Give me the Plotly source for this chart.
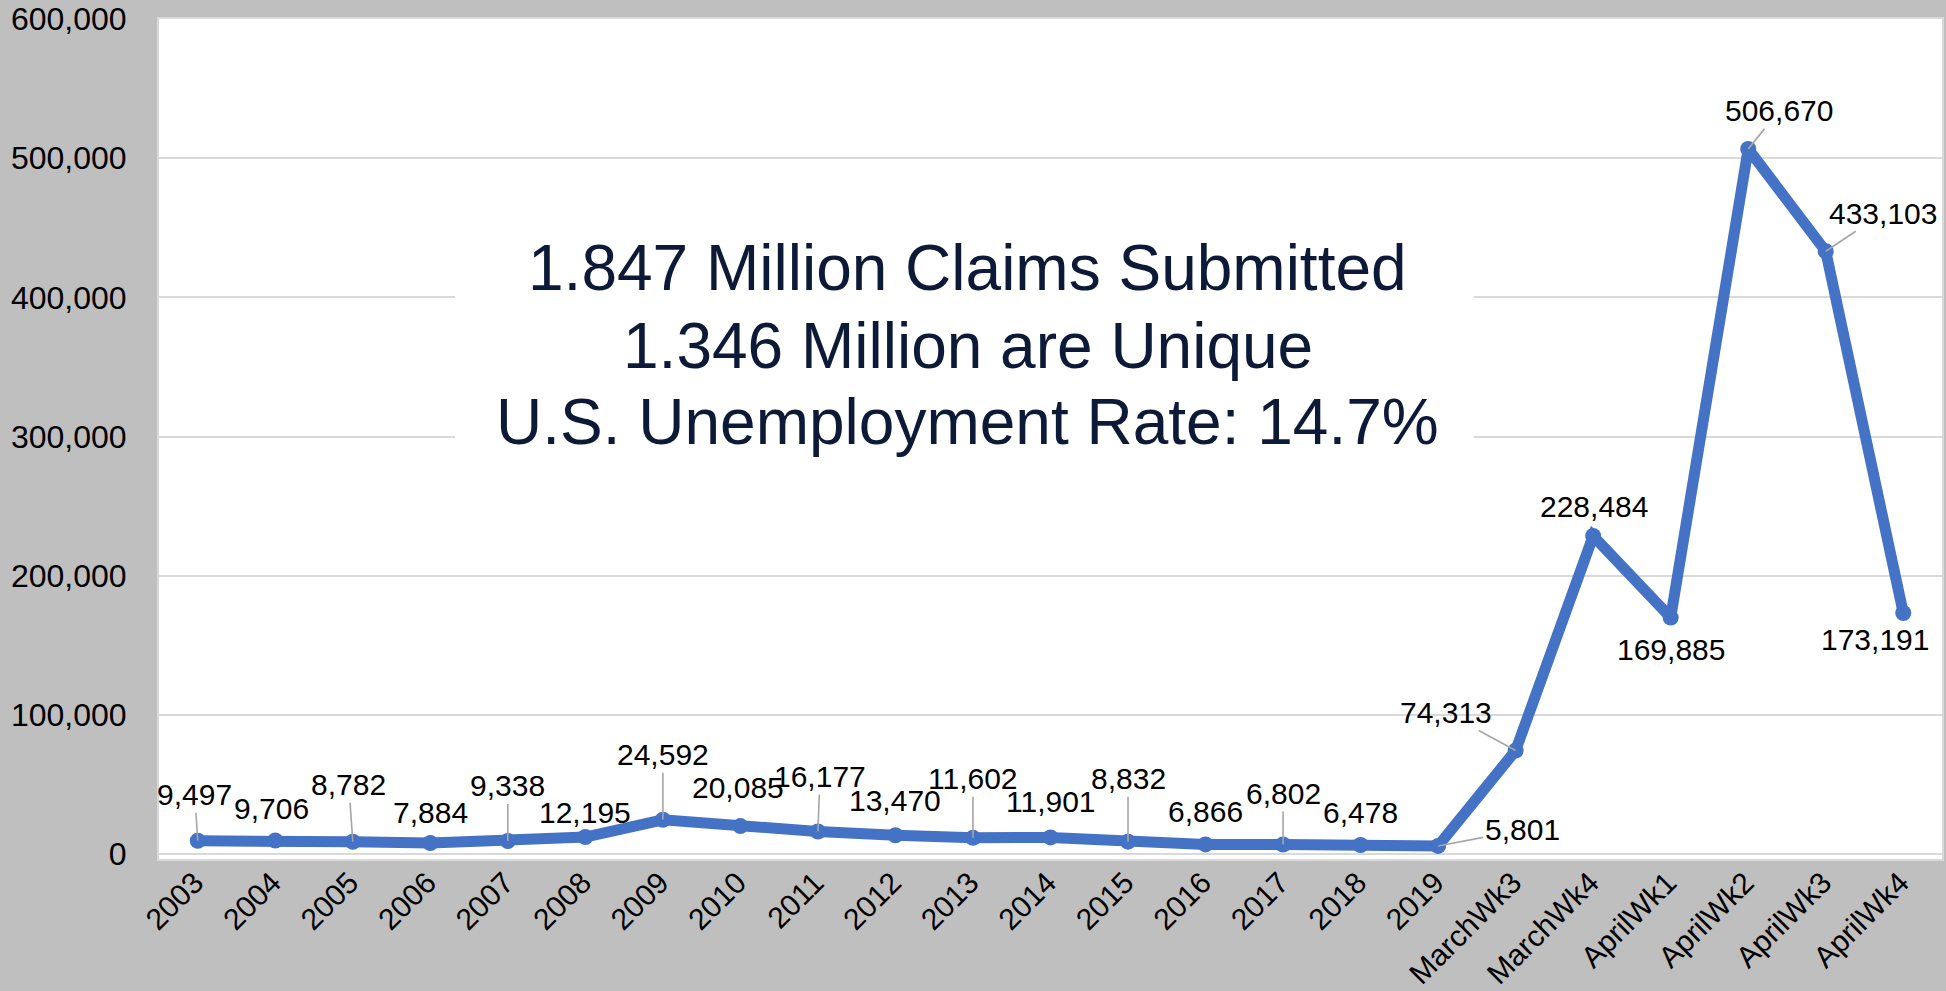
import plotly.graph_objects as go

categories = ["2003", "2004", "2005", "2006", "2007", "2008", "2009", "2010",
              "2011", "2012", "2013", "2014", "2015", "2016", "2017", "2018",
              "2019", "MarchWk3", "MarchWk4", "AprilWk1", "AprilWk2",
              "AprilWk3", "AprilWk4"]
claims = [9497, 9706, 8782, 7884, 9338, 12195, 24592, 20085, 16177, 13470,
          11602, 11901, 8832, 6866, 6802, 6478, 5801, 74313, 228484, 169885,
          506670, 433103, 173191]
y_ticks = [0, 100000, 200000, 300000, 400000, 500000, 600000]
headline = ["1.847 Million Claims Submitted",
            "1.346 Million are Unique",
            "U.S. Unemployment Rate: 14.7%"]

# label placement (pixel offsets from each point) and leader-line flags
label_dx = [-3, -4, -4, 0, 0, 0, 0, -2, 2, 0, 0, 0, 0, 0, 0, 0, 84, -70, 1, 0, 31, 57, -28]
label_dy = [-46, -32, -57, -31, -55, -25, -65, -39, -55, -35, -59, -36, -63, -33,
            -51, -32, -16, -38, -30, 32, -38, -38, 27]
leader = [1, 0, 1, 0, 1, 0, 1, 0, 1, 0, 1, 0, 1, 0, 1, 0, 1, 1, 0, 0, 1, 1, 0]

FONT = "Liberation Sans, Arial, sans-serif"
BLUE = "#4472C4"

fig = go.Figure()
fig.add_trace(go.Scatter(
    x=categories, y=claims, mode="lines+markers",
    line=dict(color=BLUE, width=11),
    marker=dict(color=BLUE, size=16),
    hoverinfo="x+y", showlegend=False,
))

annotations = []
for i, (v, dx, dy, ld) in enumerate(zip(claims, label_dx, label_dy, leader)):
    annotations.append(dict(
        x=i, y=v, xref="x", yref="y", text=f"{v:,}",
        showarrow=True, ax=dx, ay=dy, arrowhead=0, arrowwidth=1.6,
        arrowcolor="#a6a6a6" if ld else "rgba(0,0,0,0)", standoff=0,
        font=dict(family=FONT, size=30, color="#000000"),
    ))

line_y = [0.703, 0.611, 0.520]
for t, yy in zip(headline, line_y):
    annotations.append(dict(
        x=0.4537, y=yy, xref="paper", yref="paper", text=t, showarrow=False,
        xanchor="center", yanchor="middle",
        font=dict(family=FONT, size=64, color="#0c1a38"),
    ))

fig.update_layout(
    width=1946, height=991,
    margin=dict(l=159, r=4, t=19, b=132),
    paper_bgcolor="#bfbfbf", plot_bgcolor="#ffffff",
    font=dict(family=FONT, color="#000000"),
    annotations=annotations,
    shapes=[dict(type="rect", xref="paper", yref="paper",
                 x0=0.166, x1=0.7375, y0=0.482, y1=0.765,
                 fillcolor="#ffffff", line=dict(width=0), layer="above")],
    xaxis=dict(
        type="category", tickangle=-45, showgrid=False, zeroline=False,
        tickfont=dict(family=FONT, size=30, color="#000000"),
        showline=True, linecolor="#d9d9d9", linewidth=2, mirror=True,
        ticks="", automargin=False, range=[-0.5, len(categories) - 0.5],
        ticklabelstandoff=-8, ticklabelshift=-3,
    ),
    yaxis=dict(
        range=[-3600, 600000], tickvals=y_ticks,
        ticktext=[f"{t:,}" for t in y_ticks],
        showgrid=True, gridcolor="#d9d9d9", gridwidth=1.5, zeroline=False,
        tickfont=dict(family=FONT, size=32, color="#000000"),
        showline=True, linecolor="#d9d9d9", linewidth=2, mirror=True,
        ticks="", ticklabelstandoff=24, automargin=False,
    ),
)

fig.write_html(
    "out.html",
    config={"displayModeBar": False},
    post_script="document.body.style.margin='0';document.body.style.background='#bfbfbf';",
)
